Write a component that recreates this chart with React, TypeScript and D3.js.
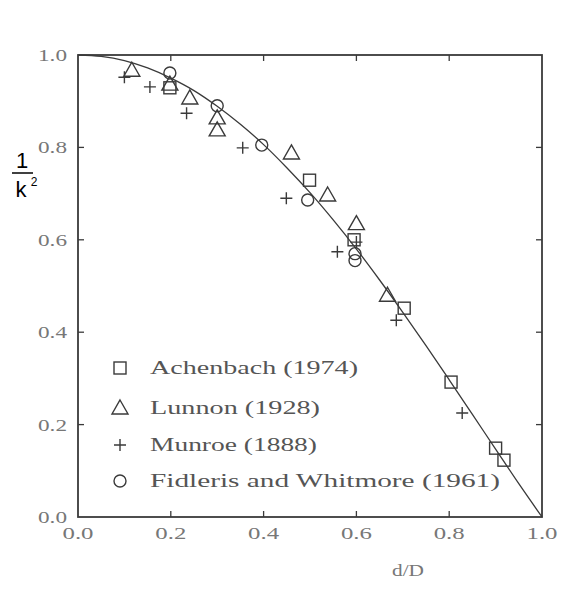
import React from "react";
import * as d3 from "d3";

// curve
const curveX = [0, 0.05, 0.1, 0.15, 0.2, 0.25, 0.3, 0.35, 0.4, 0.45, 0.5, 0.55, 0.6, 0.65, 0.7, 0.75, 0.8, 0.85, 0.9, 0.95, 1.0];
const curveY = [1.0, 0.997, 0.988, 0.972, 0.95, 0.923, 0.889, 0.85, 0.806, 0.756, 0.702, 0.643, 0.58, 0.513, 0.443, 0.371, 0.297, 0.222, 0.147, 0.072, 0];

const achenbachX = [0.198, 0.499, 0.595, 0.703, 0.804, 0.9, 0.918];
const achenbachY = [0.929, 0.729, 0.6, 0.452, 0.292, 0.149, 0.123];

const lunnonX = [0.116, 0.198, 0.241, 0.3, 0.3, 0.46, 0.538, 0.6, 0.667];
const lunnonY = [0.967, 0.937, 0.907, 0.864, 0.838, 0.788, 0.697, 0.635, 0.48];

const munroeX = [0.1, 0.155, 0.234, 0.355, 0.449, 0.559, 0.6, 0.686, 0.828];
const munroeY = [0.952, 0.931, 0.874, 0.799, 0.69, 0.574, 0.595, 0.426, 0.225];

const fidlerisX = [0.198, 0.3, 0.396, 0.495, 0.597, 0.597];
const fidlerisY = [0.961, 0.89, 0.805, 0.686, 0.57, 0.555];

const ticks = [0, 0.2, 0.4, 0.6, 0.8, 1.0];
const legendLabels = ["Achenbach (1974)", "Lunnon (1928)", "Munroe (1888)", "Fidleris and Whitmore (1961)"];
const legendWidths = [208, 170, 167, 350];

const ink = "#3a3a3a";

function Marker({ kind, x, y }: { kind: string; x: number; y: number }) {
  if (kind === "square")
    return <rect x={x - 6} y={y - 6} width={12} height={12} fill="none" stroke={ink} strokeWidth={1.4} />;
  if (kind === "triangle")
    return <path d={`M${x},${y - 8} L${x + 8},${y + 6} L${x - 8},${y + 6} Z`} fill="none" stroke={ink} strokeWidth={1.4} />;
  if (kind === "plus")
    return <path d={`M${x - 6},${y} H${x + 6} M${x},${y - 6} V${y + 6}`} stroke={ink} strokeWidth={1.4} />;
  return <circle cx={x} cy={y} r={6} fill="none" stroke={ink} strokeWidth={1.4} />;
}

export default function App() {
  const x = d3.scaleLinear().domain([0, 1]).range([78, 542]);
  const y = d3.scaleLinear().domain([0, 1]).range([517, 55]);

  const line = d3.line<number>().x((d) => x(d)).y((_, i) => y(curveY[i])).curve(d3.curveMonotoneX);

  const series = [
    { kind: "square", xs: achenbachX, ys: achenbachY },
    { kind: "triangle", xs: lunnonX, ys: lunnonY },
    { kind: "plus", xs: munroeX, ys: munroeY },
    { kind: "circle", xs: fidlerisX, ys: fidlerisY },
  ];

  const legendY = [368, 408, 445, 481];
  const serif = "'Liberation Serif', serif";

  return (
    <svg width={571} height={590} style={{ position: "absolute", left: 0, top: 0, background: "#fff" }}>
      <rect x={x(0)} y={y(1)} width={x(1) - x(0)} height={y(0) - y(1)} fill="none" stroke={ink} strokeWidth={1.8} />
      {ticks.slice(1, -1).map((t) => (
        <g key={t} stroke={ink} strokeWidth={1.3}>
          <line x1={x(t)} x2={x(t)} y1={y(0)} y2={y(0) - 6} />
          <line x1={x(t)} x2={x(t)} y1={y(1)} y2={y(1) + 6} />
          <line x1={x(0)} x2={x(0) + 6} y1={y(t)} y2={y(t)} />
          <line x1={x(1)} x2={x(1) - 6} y1={y(t)} y2={y(t)} />
        </g>
      ))}
      {ticks.map((t) => (
        <text key={"x" + t} x={x(t)} y={539} textAnchor="middle" fontFamily={serif} fontSize={17}
          textLength={31} lengthAdjust="spacingAndGlyphs" fill="#777">
          {t.toFixed(1)}
        </text>
      ))}
      {ticks.map((t) => (
        <text key={"y" + t} x={67} y={y(t) + 6} textAnchor="end" fontFamily={serif} fontSize={17}
          textLength={29} lengthAdjust="spacingAndGlyphs" fill="#777">
          {t.toFixed(1)}
        </text>
      ))}
      <text x={408} y={576} textAnchor="middle" fontFamily={serif} fontSize={17} textLength={32}
        lengthAdjust="spacingAndGlyphs" fill="#777">d/D</text>

      <g fontFamily="'Liberation Sans', Arial, sans-serif" fill="#000">
        <text x={22} y={168} textAnchor="middle" fontSize={22}>1</text>
        <line x1={12} x2={33} y1={173} y2={173} stroke="#000" strokeWidth={1.5} />
        <text x={21} y={197} textAnchor="middle" fontSize={22}>k</text>
        <text x={34} y={186} textAnchor="middle" fontSize={12}>2</text>
      </g>

      <path d={line(curveX) ?? ""} fill="none" stroke={ink} strokeWidth={1.3} />

      {series.map((s) =>
        s.xs.map((v, i) => <Marker key={s.kind + i} kind={s.kind} x={x(v)} y={y(s.ys[i])} />)
      )}

      {series.map((s, i) => (
        <g key={"lg" + i}>
          <Marker kind={s.kind} x={120} y={legendY[i]} />
          <text x={150} y={legendY[i] + 6} fontFamily={serif} fontSize={18} textLength={legendWidths[i]}
            lengthAdjust="spacingAndGlyphs" fill="#555">
            {legendLabels[i]}
          </text>
        </g>
      ))}
    </svg>
  );
}
